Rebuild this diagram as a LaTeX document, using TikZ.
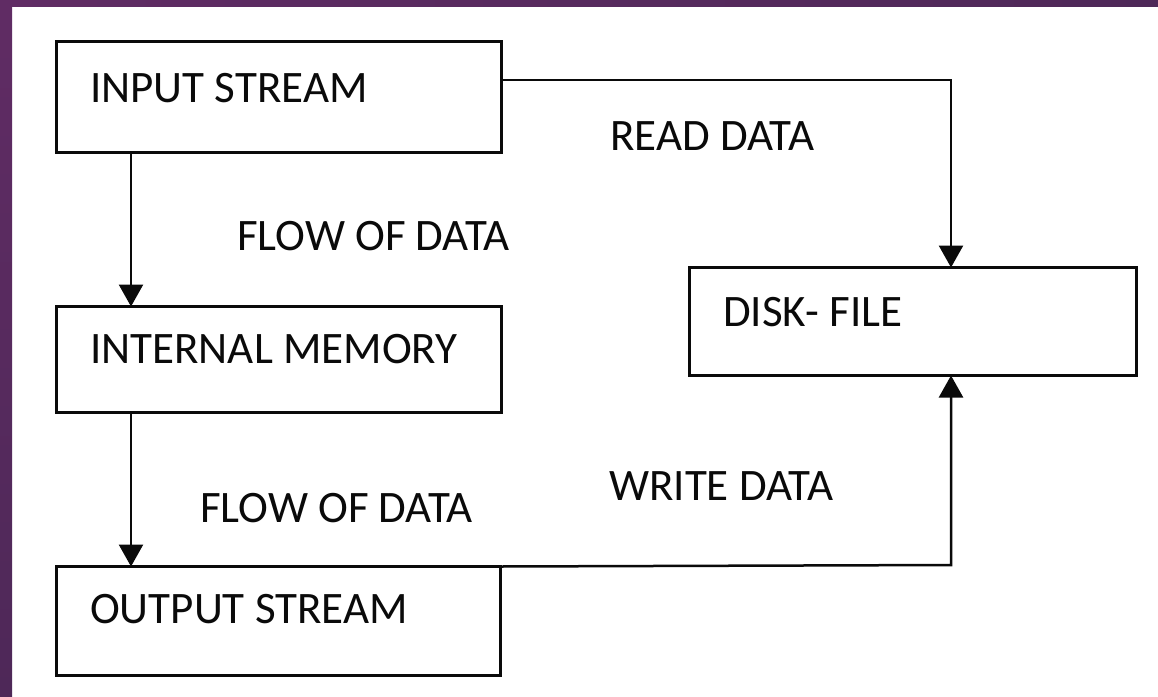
\documentclass[tikz,border=0pt]{standalone}
\usepackage{fontspec}
\setmainfont{Carlito}
\usetikzlibrary{arrows.meta}

\definecolor{frameA}{RGB}{96,44,100}
\definecolor{frameB}{RGB}{78,40,88}
\definecolor{ink}{RGB}{10,10,10}

\begin{document}
\begin{tikzpicture}[x=1pt,y=-1pt,
  box/.style={draw=ink,line width=3.2pt,inner sep=0pt,outer sep=0pt},
  lbl/.style={anchor=base west,inner sep=0pt,text=ink,
              font=\fontsize{45}{54}\selectfont},
  conn/.style={draw=ink,line width=2.5pt,
               -{Triangle[width=24pt,length=22pt]}}]

  % page and purple frame strips
  \useasboundingbox (0,0) rectangle (1158,696);
  \fill[white] (0,0) rectangle (1158,696);
  \shade[left color=frameA,right color=frameB] (0,0) rectangle (1158,6);
  \shade[top color=frameA,bottom color=frameB] (0,0) rectangle (12,696);

  % boxes
  \node[box,minimum width=445pt,minimum height=111pt] (in)   at (279,97)    {};
  \node[box,minimum width=445pt,minimum height=106pt] (mem)  at (279,359.5) {};
  \node[box,minimum width=444pt,minimum height=109pt] (out)  at (278.5,621) {};
  \node[box,minimum width=447pt,minimum height=108pt] (disk) at (913,321.5) {};

  % box titles
  \node[lbl] (inT)   at (90,102)  {INPUT STREAM};
  \node[lbl] (memT)  at (90,363)  {INTERNAL MEMORY};
  \node[lbl] (outT)  at (90,623)  {OUTPUT STREAM};
  \node[lbl] (diskT) at (723,326) {DISK- FILE};

  % connector labels
  \node[lbl] (readL)  at (610,150) {READ DATA};
  \node[lbl] (flow1)  at (237,250) {FLOW OF DATA};
  \node[lbl] (writeL) at (609,500) {WRITE DATA};
  \node[lbl] (flow2)  at (200,522) {FLOW OF DATA};

  % guide coordinates for the connector runs
  \coordinate (fx) at (131,0);
  \coordinate (rd) at (951,80);
  \coordinate (wr) at (951,565);

  % connectors
  \draw[conn] (in.south -| fx) -- (mem.north -| fx);
  \draw[conn] (mem.south -| fx) -- (out.north -| fx);
  \draw[conn] (in.east |- rd) -- (rd) -- (disk.north -| rd);
  \draw[conn] (out.north east) -- (wr) -- (disk.south -| wr);
\end{tikzpicture}
\end{document}
